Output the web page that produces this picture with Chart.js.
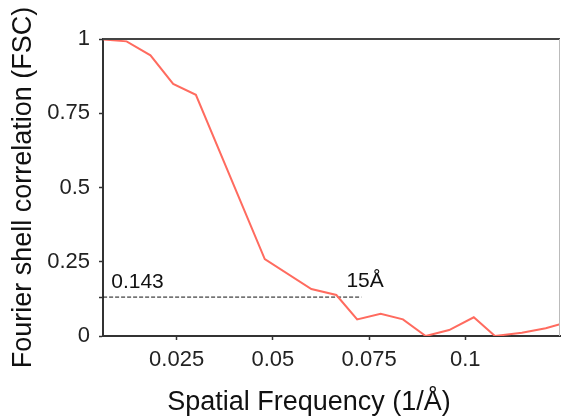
<!DOCTYPE html>
<html>
<head>
<meta charset="utf-8">
<script src="https://cdn.jsdelivr.net/npm/chart.js@4.4.1/dist/chart.umd.min.js"></script>
<style>
  html, body { margin: 0; padding: 0; background: #fff; }
  #wrap { width: 561px; height: 416px; }
</style>
</head>
<body>
<div id="wrap"><canvas id="fscChart"></canvas></div>
<script>
// FSC curve
var freq = [0.0060, 0.0120, 0.0182, 0.0241, 0.0300, 0.0479, 0.0600, 0.0665, 0.0719, 0.0780, 0.0838, 0.0897, 0.0958, 0.1022, 0.1077, 0.1147, 0.1209, 0.1246];
var fsc  = [0.998, 0.992, 0.945, 0.849, 0.812, 0.259, 0.158, 0.138, 0.056, 0.075, 0.056, 0.0, 0.020, 0.063, 0.0, 0.011, 0.026, 0.040];

// threshold line (drawn where it sits in the picture)
var threshX = [0.0059, 0.0730];
var threshY = [0.131, 0.131];

var xTicks = [0.025, 0.05, 0.075, 0.1];
var xTickLabels = ['0.025', '0.05', '0.075', '0.1'];
var yTicks = [0, 0.131, 0.25, 0.5, 0.75, 1];
var yTickLabels = ['0', '', '0.25', '0.5', '0.75', '1'];

var noteText = ['0.143', '15Å'];
var noteX = [0.0080, 0.0691];
var noteY = [0.162, 0.166];

var font = "'Liberation Sans', Arial, sans-serif";

const framePlugin = {
    id: 'frame_and_notes',
    afterDraw: (chart) => {
        const ctx = chart.ctx;
        const a = chart.chartArea;
        ctx.save();
        // top border
        ctx.strokeStyle = '#444';
        ctx.lineWidth = 2;
        ctx.beginPath();
        ctx.moveTo(a.left, a.top);
        ctx.lineTo(a.right, a.top);
        ctx.stroke();
        // right border
        ctx.strokeStyle = '#bbb';
        ctx.lineWidth = 1;
        ctx.beginPath();
        ctx.moveTo(a.right - 0.5, a.top);
        ctx.lineTo(a.right - 0.5, a.bottom);
        ctx.stroke();
        // text notes
        ctx.fillStyle = '#111';
        ctx.font = '21px ' + font;
        ctx.textAlign = 'left';
        ctx.textBaseline = 'alphabetic';
        const xs = chart.scales.x, ys = chart.scales.y;
        for (let i = 0; i < noteText.length; i++) {
            ctx.fillText(noteText[i], xs.getPixelForValue(noteX[i]), ys.getPixelForValue(noteY[i]));
        }
        ctx.restore();
    }
};

var ctx = document.getElementById('fscChart').getContext('2d');
var myChart = new Chart(ctx, {
    type: 'line',
    data: {
        datasets: [{
            label: 'FSC',
            data: freq.map((f, i) => ({x: f, y: fsc[i]})),
            borderColor: '#ff6b5f',
            borderWidth: 2,
            pointRadius: 0,
            tension: 0
        }, {
            label: 'threshold',
            data: threshX.map((f, i) => ({x: f, y: threshY[i]})),
            borderColor: '#111',
            borderWidth: 1,
            borderDash: [4, 2],
            pointRadius: 0
        }]
    },
    options: {
        responsive: true,
        maintainAspectRatio: false,
        animation: false,
        layout: { padding: { top: 39, right: 1, left: 0, bottom: 0 } },
        plugins: {
            legend: { display: false },
            tooltip: { enabled: false }
        },
        scales: {
            x: {
                type: 'linear',
                min: 0.00587,
                max: 0.1246,
                afterBuildTicks: (axis) => { axis.ticks = xTicks.map(v => ({value: v})); },
                afterFit: (axis) => { axis.height = 80; },
                grid: { drawOnChartArea: false, drawTicks: true, tickLength: 4, color: '#333', tickWidth: 1.5 },
                border: { display: true, color: '#333', width: 2 },
                ticks: {
                    padding: 7,
                    maxRotation: 0,
                    color: '#222',
                    font: { family: font, size: 22 },
                    callback: (v, i) => xTickLabels[i]
                },
                title: {
                    display: true,
                    text: 'Spatial Frequency (1/Å)      ',
                    color: '#111',
                    font: { family: font, size: 27, lineHeight: 1.0 },
                    padding: { top: 0, bottom: 0 }
                }
            },
            y: {
                min: 0,
                max: 1,
                afterBuildTicks: (axis) => { axis.ticks = yTicks.map(v => ({value: v})); },
                afterFit: (axis) => { axis.width = 103; },
                grid: { drawOnChartArea: false, drawTicks: true, tickLength: 4, color: '#333', tickWidth: 1.5 },
                border: { display: true, color: '#333', width: 2 },
                ticks: {
                    padding: 9,
                    color: '#222',
                    font: { family: font, size: 22 },
                    callback: (v, i) => yTickLabels[i]
                },
                title: {
                    display: true,
                    text: 'Fourier shell correlation (FSC)',
                    color: '#111',
                    font: { family: font, size: 27, lineHeight: 1.2 },
                    padding: { top: 7, bottom: 0 }
                }
            }
        }
    },
    plugins: [framePlugin]
});
</script>
</body>
</html>
